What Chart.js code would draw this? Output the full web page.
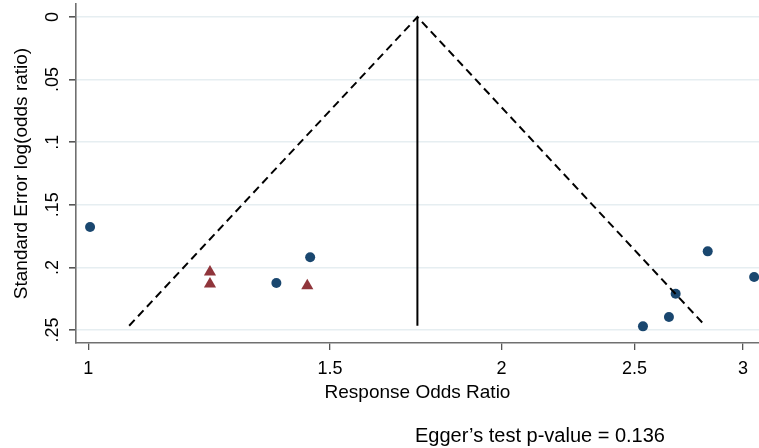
<!DOCTYPE html>
<html>
<head>
<meta charset="utf-8">
<script src="https://cdn.jsdelivr.net/npm/chart.js@4/dist/chart.umd.min.js"></script>
<style>
  body { margin: 0; background: #fff; }
  #wrap { position: relative; width: 759px; height: 448px; }
  #note {
    position: absolute; left: 415px; top: 423px;
    font-family: "Liberation Sans", Arial, sans-serif; font-size: 20px;
    color: #000; white-space: nowrap; line-height: 24px;
  }
</style>
</head>
<body>
<div id="wrap">
  <canvas id="funnel" width="759" height="448"></canvas>
  <div id="note">Egger’s test p-value = 0.136</div>
</div>
<script>
// studies (circles)
var circleOR = [1.003, 1.451, 1.371, 2.827, 3.056, 2.679, 2.649, 2.536];
var circleSE = [0.1677, 0.1919, 0.2125, 0.1872, 0.2077, 0.2210, 0.2396, 0.2471];
// studies (triangles)
var triOR = [1.2265, 1.2265, 1.444];
var triSE = [0.2037, 0.2133, 0.2146];
// pooled estimate and pseudo 95% limits
var pooledOR = 1.737;
var limitOR = [1.071, 2.815];
var maxSE = 0.2466;
// axis ticks
var xTicks = [1, 1.5, 2, 2.5, 3];
var yTicks = [0, 0.05, 0.1, 0.15, 0.2, 0.25];

var FONT = "'Liberation Sans', Arial, sans-serif";

function pts(xs, ys) {
  return xs.map(function (x, i) { return { x: x, y: ys[i] }; });
}

new Chart(document.getElementById("funnel"), {
  type: "scatter",
  data: {
    datasets: [
      {
        data: [{ x: limitOR[0], y: maxSE }, { x: pooledOR, y: 0 }, { x: limitOR[1], y: maxSE }],
        showLine: true, borderColor: "#000", borderWidth: 2, borderDash: [8, 5],
        pointRadius: 0, fill: false
      },
      {
        data: [{ x: pooledOR, y: 0 }, { x: pooledOR, y: maxSE }],
        showLine: true, borderColor: "#000", borderWidth: 2,
        pointRadius: 0, fill: false
      },
      {
        data: pts(circleOR, circleSE),
        pointStyle: "circle", pointRadius: 5,
        backgroundColor: "#1a476f", borderColor: "#1a476f", borderWidth: 0
      },
      {
        data: pts(triOR, triSE),
        pointStyle: "triangle", pointRadius: 7,
        backgroundColor: "#90353b", borderColor: "#90353b", borderWidth: 0
      }
    ]
  },
  options: {
    responsive: false,
    animation: false,
    events: [],
    layout: { autoPadding: false, padding: { left: 0, right: 0, top: 4, bottom: 40 } },
    plugins: { legend: { display: false }, tooltip: { enabled: false } },
    scales: {
      x: {
        type: "logarithmic",
        min: 0.9796, max: 3.081,
        afterBuildTicks: function (axis) {
          axis.ticks = xTicks.map(function (v) { return { value: v }; });
        },
        afterFit: function (axis) {
          axis.height = 65;
          axis.paddingLeft = 0;
          axis.paddingRight = 0;
        },
        ticks: {
          color: "#000", padding: 8, autoSkip: false, maxRotation: 0,
          font: { family: FONT, size: 18 },
          callback: function (v) { return String(v); }
        },
        grid: { drawOnChartArea: false, drawTicks: true, tickLength: 7, tickColor: "#555", lineWidth: 1.3 },
        border: { display: true, color: "#707070", width: 1.6 },
        title: {
          display: true, text: "Response Odds Ratio", color: "#000",
          font: { family: FONT, size: 19 }, padding: { top: 1, bottom: 4 }
        }
      },
      y: {
        reverse: true,
        min: -0.0104, max: 0.2604,
        afterBuildTicks: function (axis) {
          axis.ticks = yTicks.map(function (v) { return { value: v }; });
        },
        afterFit: function (axis) {
          axis.width = 76;
          axis.paddingTop = 0;
          axis.paddingBottom = 0;
        },
        ticks: {
          color: "#000", padding: 3, minRotation: 90, maxRotation: 90,
          crossAlign: "center", autoSkip: false,
          font: { family: FONT, size: 18 },
          callback: function (v) { return String(v).replace(/^0\./, "."); }
        },
        grid: { color: "#e6eef1", lineWidth: 1.6, tickLength: 7, tickColor: "#555" },
        border: { display: true, color: "#707070", width: 1.6 },
        title: {
          display: true, text: "Standard Error log(odds ratio)", color: "#000",
          font: { family: FONT, size: 19 }, padding: { top: 10, bottom: 0 }
        }
      }
    }
  }
});
</script>
</body>
</html>
